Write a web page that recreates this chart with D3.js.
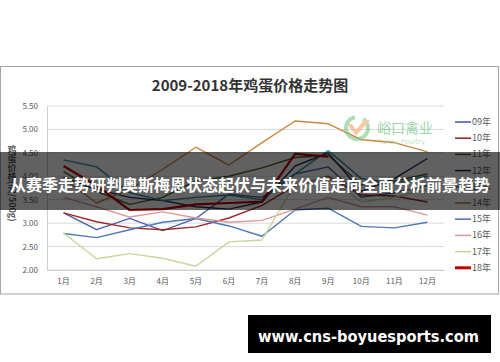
<!DOCTYPE html>
<html>
<head>
<meta charset="utf-8">
<script src="https://cdn.jsdelivr.net/npm/d3@7"></script>
<style>
    body { margin: 0; background: #fff; }
    svg { display: block; }
</style>
</head>
<body>
<svg id="chart"></svg>
<script>
const months = ['1月','2月','3月','4月','5月','6月','7月','8月','9月','10月','11月','12月'];
const years = ['09年','10年','11年','12年','13年','14年','15年','16年','17年','18年'];
const y_ticks = [2.00, 2.50, 3.00, 3.50, 4.00, 4.50, 5.00, 5.50];

const price09 = [3.22, 2.86, 3.10, 2.84, 3.10, 3.62, 3.55, 4.05, 4.20, 3.55, 3.65, 3.80];
const price10 = [3.22, 3.03, 2.90, 2.86, 2.92, 3.11, 3.38, 3.80, 4.00, 3.60, 3.58, 3.45];
const price11 = [4.10, 3.68, 3.40, 3.55, 3.90, 4.00, 4.18, 4.40, 4.45, 3.82, 3.90, 4.05];
const price12 = [3.98, 3.72, 3.55, 3.48, 3.35, 3.30, 3.45, 4.22, 4.50, 3.68, 3.95, 4.38];
const price13 = [4.35, 4.20, 3.65, 3.48, 3.55, 3.60, 3.50, 4.05, 4.55, 3.95, 3.85, 4.00];
const price14 = [3.95, 3.43, 3.72, 4.15, 4.62, 4.24, 4.72, 5.18, 5.12, 4.78, 4.72, 4.52];
const price15 = [2.78, 2.69, 2.86, 3.02, 3.10, 2.94, 2.72, 3.28, 3.32, 2.93, 2.90, 3.02];
const price16 = [3.55, 3.35, 3.13, 3.24, 3.11, 3.02, 3.06, 3.30, 3.55, 3.35, 3.35, 3.17];
const price17 = [2.79, 2.24, 2.35, 2.25, 2.08, 2.60, 2.64, 3.85, 3.98, 3.45, 3.55, 3.72];
const price18 = [4.22, 3.80, 3.28, 3.30, 3.40, 3.43, 3.46, 4.48, 4.42];

const series = [price09, price10, price11, price12, price13, price14, price15, price16, price17, price18];
const colors = ['#4a60a8', '#a0282a', '#4f6228', '#262a5a', '#2e8b9a', '#cc8640', '#4f78b8', '#dc9a9a', '#c4d79b', '#c00000'];

const W = 500, H = 362;
const margin = {top: 106, right: 56, bottom: 92, left: 47};
const inner_width = W - margin.left - margin.right;
const inner_height = H - margin.top - margin.bottom;

const svg = d3.select('#chart')
    .attr('width', W)
    .attr('height', H);

// outer frame of the picture
svg.append('rect')
    .attr('x', 0.5)
    .attr('y', 66.5)
    .attr('width', 498)
    .attr('height', 227.5)
    .attr('fill', '#fff')
    .attr('stroke', '#a6a6a6');

svg.append('text')
    .attr('x', 250)
    .attr('y', 91)
    .attr('text-anchor', 'middle')
    .style('font-family', '"Noto Sans CJK SC", "Noto Sans", sans-serif')
    .style('font-size', '15px')
    .style('font-weight', 'bold')
    .attr('fill', '#333')
    .text('2009-2018年鸡蛋价格走势图');

const chart = svg.append('g')
    .attr('transform', `translate(${margin.left}, ${margin.top})`);

const xscale = d3.scaleBand()
    .domain(months)
    .range([0, inner_width]);

const yscale = d3.scaleLinear()
    .domain([2, 5.5])
    .range([inner_height, 0]);

// grid
chart.append('g')
    .selectAll('line')
    .data(y_ticks)
    .join('line')
    .attr('x1', 0)
    .attr('x2', inner_width)
    .attr('y1', d => yscale(d))
    .attr('y2', d => yscale(d))
    .attr('stroke', '#d9d9d9')
    .attr('stroke-width', 1);

const yaxis = d3.axisLeft(yscale)
    .tickValues(y_ticks)
    .tickFormat(d3.format('.2f'))
    .tickSize(0)
    .tickPadding(9);

const xaxis = d3.axisBottom(xscale)
    .tickSize(0)
    .tickPadding(8);

const yaxis_group = chart.append('g').call(yaxis);
const xaxis_group = chart.append('g')
    .attr('transform', `translate(0, ${inner_height})`)
    .call(xaxis);

[yaxis_group, xaxis_group].forEach(g => {
    g.select('.domain').attr('stroke', '#d0d0d0');
    g.selectAll('text')
        .attr('fill', '#595959')
        .style('font-family', '"Noto Sans CJK SC", sans-serif')
        .style('font-size', '8px');
});

// y label
svg.append('text')
    .attr('x', 12)
    .attr('y', 145)
    .style('writing-mode', 'vertical-rl')
    .style('font-family', '"Noto Sans CJK SC", sans-serif')
    .style('font-size', '9px')
    .style('font-weight', 'bold')
    .attr('fill', '#595959')
    .text('鸡蛋价格(元/500g)');

// watermark logo
const logo = svg.append('g').attr('opacity', 0.55);
logo.append('path')
    .attr('d', d3.arc()({innerRadius: 9, outerRadius: 13, startAngle: 0.6, endAngle: 2 * Math.PI - 0.2}))
    .attr('transform', 'translate(357, 128)')
    .attr('fill', '#6cc47f');
logo.append('path')
    .attr('d', 'M347,124 L356,136 L370,120 L364,120 L356,130 L352,124 Z')
    .attr('fill', '#f2a05a');
logo.append('text')
    .attr('x', 377)
    .attr('y', 133)
    .style('font-family', '"Noto Sans CJK SC", sans-serif')
    .style('font-size', '14px')
    .attr('fill', '#4cb866')
    .text('峪口禽业');
logo.append('text')
    .attr('x', 378)
    .attr('y', 144)
    .style('font-family', '"DejaVu Sans", sans-serif')
    .style('font-size', '7px')
    .attr('fill', '#8fd0a0')
    .text('Yukou Poultry');

// series lines
const line = d3.line()
    .x((d, i) => xscale(months[i]) + xscale.bandwidth() / 2)
    .y(d => yscale(d));

chart.append('g')
    .selectAll('path')
    .data(series)
    .join('path')
    .attr('d', d => line(d))
    .attr('fill', 'none')
    .attr('stroke', (d, i) => colors[i])
    .attr('stroke-width', (d, i) => i === 9 ? 2.2 : 1.4)
    .attr('stroke-linejoin', 'round');

// legend
const legend = svg.append('g')
    .attr('transform', 'translate(455, 122)');

const entry = legend.selectAll('g')
    .data(years)
    .join('g')
    .attr('transform', (d, i) => `translate(0, ${i * 16.2})`);

entry.append('line')
    .attr('x1', 0)
    .attr('x2', 16)
    .attr('stroke', (d, i) => colors[i])
    .attr('stroke-width', (d, i) => i === 9 ? 3 : 1.6);

entry.append('text')
    .attr('x', 17)
    .attr('y', 3)
    .style('font-family', '"Noto Sans CJK SC", sans-serif')
    .style('font-size', '9px')
    .attr('fill', '#595959')
    .text(d => d);

// overlay banner
svg.append('rect')
    .attr('x', 0)
    .attr('y', 152)
    .attr('width', W)
    .attr('height', 58)
    .attr('fill', '#000')
    .attr('opacity', 0.62);

svg.append('text')
    .attr('x', 250)
    .attr('y', 191)
    .attr('text-anchor', 'middle')
    .style('font-family', '"Noto Sans CJK SC", sans-serif')
    .style('font-size', '16px')
    .style('font-weight', 'bold')
    .attr('fill', '#fff')
    .text('从赛季走势研判奥斯梅恩状态起伏与未来价值走向全面分析前景趋势');

// site box
svg.append('rect')
    .attr('x', 248)
    .attr('y', 315)
    .attr('width', 243)
    .attr('height', 38)
    .attr('fill', '#000');

svg.append('text')
    .attr('x', 258)
    .attr('y', 342)
    .attr('textLength', 221)
    .attr('lengthAdjust', 'spacingAndGlyphs')
    .style('font-family', '"DejaVu Sans", sans-serif')
    .style('font-size', '16px')
    .style('font-weight', 'bold')
    .attr('fill', '#fff')
    .text('www.cns-boyuesports.com');
</script>
</body>
</html>
